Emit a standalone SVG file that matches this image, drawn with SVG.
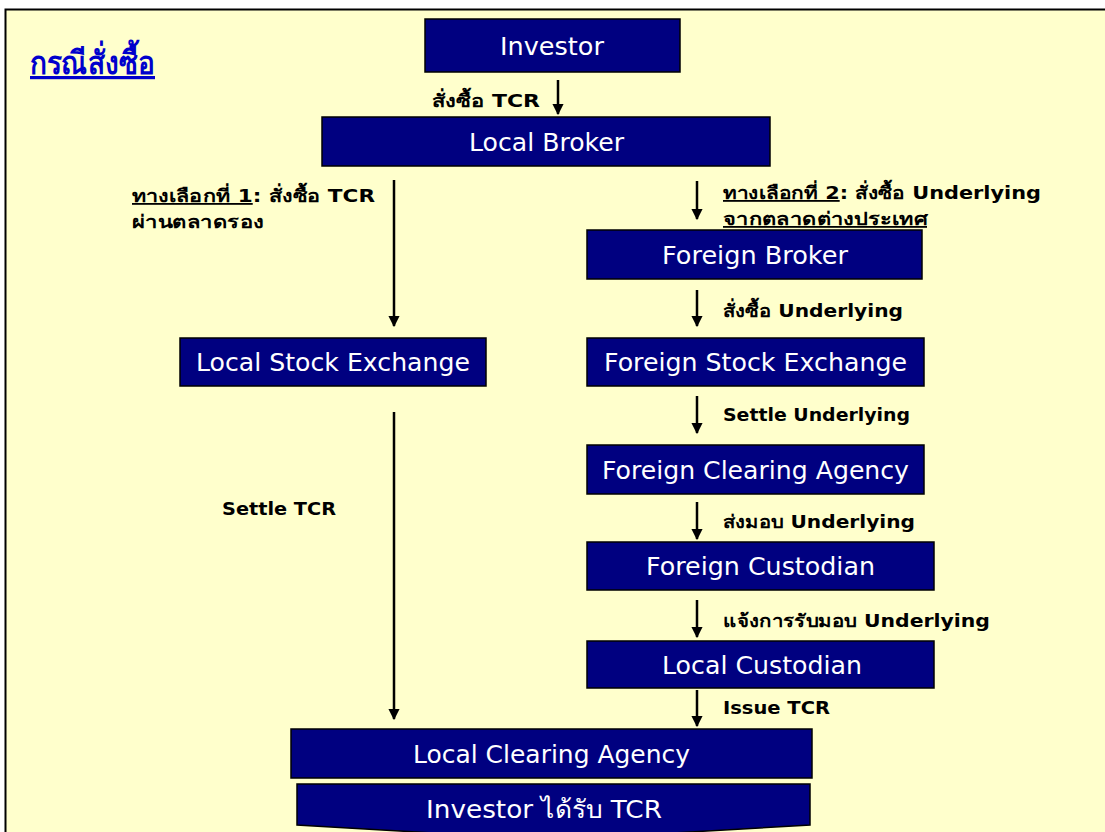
<svg xmlns="http://www.w3.org/2000/svg" width="1105" height="832" viewBox="0 0 1105 832">
<style>
.node{fill:#000080;stroke:#000;stroke-width:1.5}
.nt{fill:#fff;font-family:"DejaVu Sans","Noto Sans",sans-serif;font-size:25px;text-anchor:middle}
.lb{fill:#000;font-family:"DejaVu Sans","Noto Sans",sans-serif;font-size:18px;font-weight:bold}
.ar{stroke:#000;stroke-width:2.5;fill:none;marker-end:url(#ah)}
</style>
<defs>
<marker id="ah" viewBox="0 0 10 10" refX="9" refY="5" markerWidth="4.5" markerHeight="4.5" orient="auto" markerUnits="strokeWidth">
<path d="M0,0 L10,5 L0,10 z" fill="#000"/>
</marker>
</defs>
<rect x="0" y="0" width="1105" height="832" fill="#fff"/>
<rect x="5.5" y="9.5" width="1110" height="840" fill="#FFFFCC" stroke="#000" stroke-width="2"/>
<g id="title">
<text x="30" y="74" font-family="'Liberation Serif','Noto Serif',serif" font-size="32" font-weight="bold" fill="#0000CC" text-decoration="underline" textLength="125" lengthAdjust="spacingAndGlyphs">กรณีสั่งซื้อ</text>
</g>
<g id="connectors">
<line class="ar" x1="558" y1="80" x2="558" y2="114"/>
<line class="ar" x1="394" y1="180" x2="394" y2="326"/>
<line class="ar" x1="697" y1="181" x2="697" y2="219"/>
<line class="ar" x1="697" y1="290" x2="697" y2="326"/>
<line class="ar" x1="697" y1="396" x2="697" y2="433"/>
<line class="ar" x1="697" y1="502" x2="697" y2="539"/>
<line class="ar" x1="697" y1="600" x2="697" y2="637"/>
<line class="ar" x1="697" y1="690" x2="697" y2="726"/>
<line class="ar" x1="394" y1="412" x2="394" y2="719"/>
</g>
<g id="labels">
<text class="lb" x="432" y="107" textLength="108" lengthAdjust="spacingAndGlyphs">สั่งซื้อ TCR</text>
<text class="lb" x="132" y="202" textLength="243" lengthAdjust="spacingAndGlyphs"><tspan text-decoration="underline">ทางเลือกที่ 1</tspan>: สั่งซื้อ TCR</text>
<text class="lb" x="132" y="228" textLength="132" lengthAdjust="spacingAndGlyphs">ผ่านตลาดรอง</text>
<text class="lb" x="723" y="199" textLength="318" lengthAdjust="spacingAndGlyphs"><tspan text-decoration="underline">ทางเลือกที่ 2</tspan>: สั่งซื้อ Underlying</text>
<text class="lb" x="723" y="225" text-decoration="underline" textLength="204" lengthAdjust="spacingAndGlyphs">จากตลาดต่างประเทศ</text>
<text class="lb" x="723" y="317" textLength="180" lengthAdjust="spacingAndGlyphs">สั่งซื้อ Underlying</text>
<text class="lb" x="723" y="421" textLength="187" lengthAdjust="spacingAndGlyphs">Settle Underlying</text>
<text class="lb" x="723" y="528" textLength="192" lengthAdjust="spacingAndGlyphs">ส่งมอบ Underlying</text>
<text class="lb" x="723" y="627" textLength="267" lengthAdjust="spacingAndGlyphs">แจ้งการรับมอบ Underlying</text>
<text class="lb" x="723" y="714" textLength="107" lengthAdjust="spacingAndGlyphs">Issue TCR</text>
<text class="lb" x="222" y="515" textLength="114" lengthAdjust="spacingAndGlyphs">Settle TCR</text>
</g>
<g id="investor">
<rect class="node" x="425" y="19" width="255" height="53"/>
<text class="nt" x="552" y="55" textLength="104" lengthAdjust="spacingAndGlyphs">Investor</text>
</g>
<g id="local-broker">
<rect class="node" x="322" y="117" width="448" height="49"/>
<text class="nt" x="546.5" y="151" textLength="155" lengthAdjust="spacingAndGlyphs">Local Broker</text>
</g>
<g id="local-stock-exchange">
<rect class="node" x="180" y="338" width="306" height="48"/>
<text class="nt" x="333" y="371" textLength="274" lengthAdjust="spacingAndGlyphs">Local Stock Exchange</text>
</g>
<g id="foreign-broker">
<rect class="node" x="587" y="230" width="335" height="49"/>
<text class="nt" x="755" y="264" textLength="186" lengthAdjust="spacingAndGlyphs">Foreign Broker</text>
</g>
<g id="foreign-stock-exchange">
<rect class="node" x="587" y="338" width="337" height="48"/>
<text class="nt" x="755.5" y="371" textLength="303" lengthAdjust="spacingAndGlyphs">Foreign Stock Exchange</text>
</g>
<g id="foreign-clearing-agency">
<rect class="node" x="587" y="445" width="337" height="49"/>
<text class="nt" x="755.5" y="479" textLength="307" lengthAdjust="spacingAndGlyphs">Foreign Clearing Agency</text>
</g>
<g id="foreign-custodian">
<rect class="node" x="587" y="542" width="347" height="48"/>
<text class="nt" x="760.5" y="575" textLength="229" lengthAdjust="spacingAndGlyphs">Foreign Custodian</text>
</g>
<g id="local-custodian">
<rect class="node" x="587" y="641" width="347" height="47"/>
<text class="nt" x="762" y="674" textLength="200" lengthAdjust="spacingAndGlyphs">Local Custodian</text>
</g>
<g id="local-clearing-agency">
<rect class="node" x="291" y="729" width="521" height="49"/>
<text class="nt" x="551.5" y="763" textLength="277" lengthAdjust="spacingAndGlyphs">Local Clearing Agency</text>
</g>
<g id="investor-receives">
<path class="node" d="M297,784 L810,784 L810,825 L553,840 L297,825 Z"/>
<text class="nt" x="544" y="818" textLength="236" lengthAdjust="spacingAndGlyphs">Investor ได้รับ TCR</text>
</g>
</svg>
